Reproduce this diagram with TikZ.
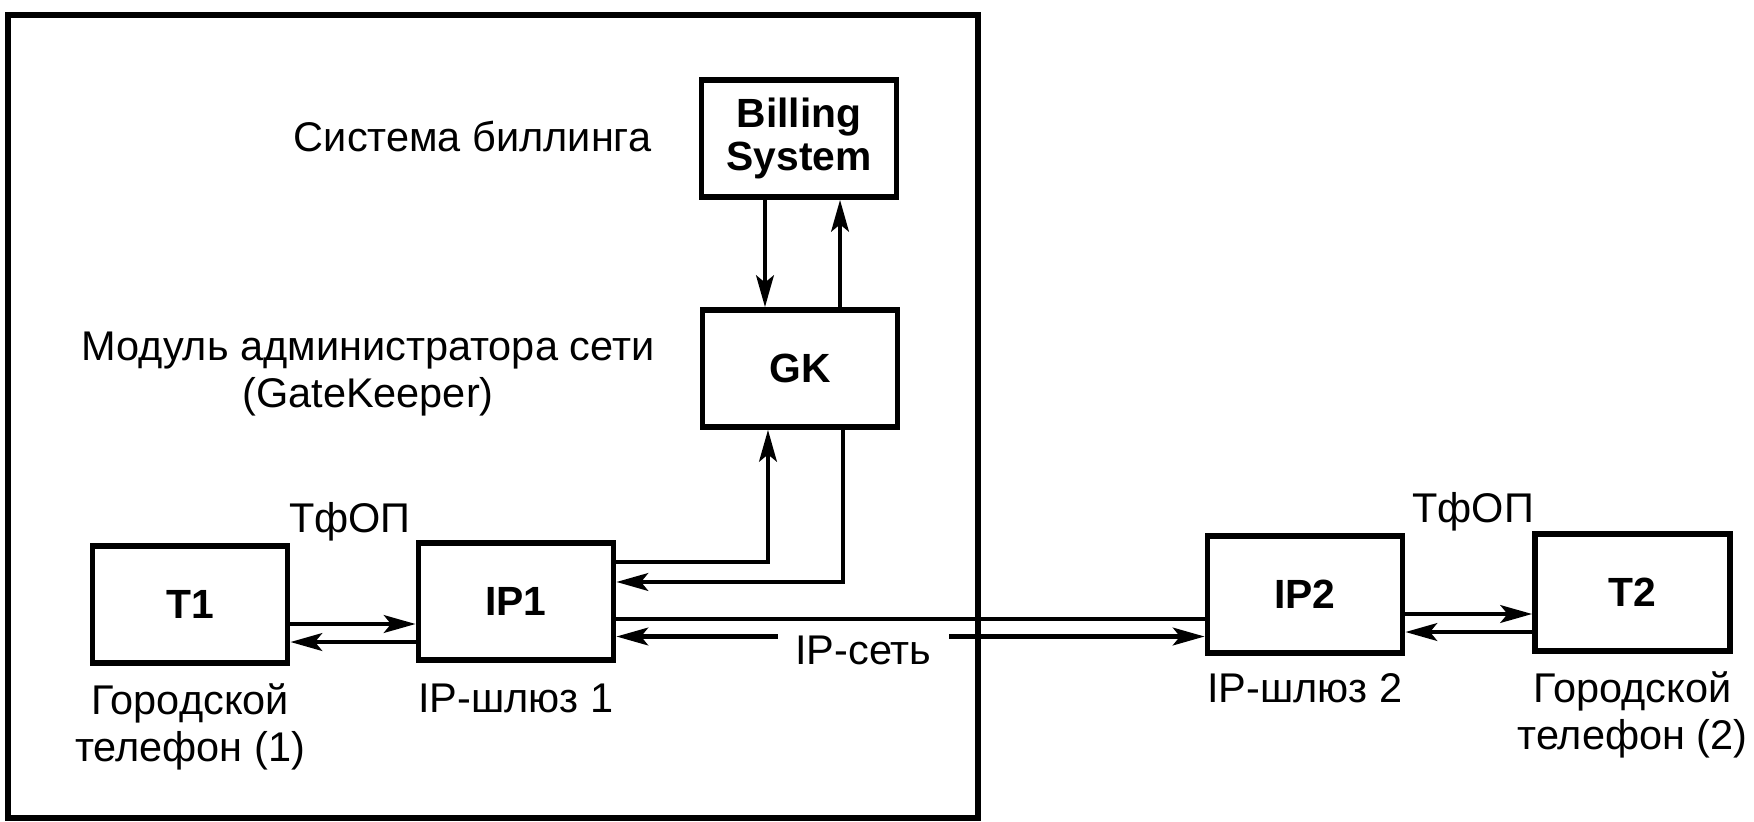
\documentclass[tikz,border=0pt]{standalone}
\usepackage{fontspec}
\setmainfont{Liberation Sans}
\usetikzlibrary{arrows.meta,positioning}
\tikzset{
  blok/.style={draw, line width=1.6pt, minimum width=1.95cm, minimum height=1.17cm,
    font=\fontsize{11.6}{12}\selectfont\bfseries, align=center, inner sep=0pt},
  lbl/.style={font=\fontsize{11.8}{13.3}\selectfont, align=center, inner sep=0pt},
  svyaz/.style={line width=1.3pt, ->},
}
\begin{document}
\begin{tikzpicture}[x=0.01cm, y=-0.01cm, >={Stealth[length=9pt,width=5pt,inset=2pt]}]
\useasboundingbox (0,0) rectangle (1754,822);
% рамка
\draw[line width=1.6pt] (8,15) rectangle (978,818);
% блоки
\node[blok] (Bill) at (799,138.5) {Billing\\System};
\node[blok] (GK) at (800,368.5) {GK};
\foreach \n/\x/\y in {T1/190/604.5, IP1/516/601.5, IP2/1305/594.5, T2/1632.5/592.5}
  \node[blok] (\n) at (\x,\y) {\n};
% подписи
\node[lbl, anchor=base east] (sysb) at (652,152) {Система биллинга};
\node[lbl, anchor=north] (modul) at (368,331) {Модуль администратора сети\\(GateKeeper)};
\node[lbl, anchor=base] (tfop1) at (350,533) {ТфОП};
\node[lbl, anchor=base] (tfop2) at (1473,523) {ТфОП};
\node[lbl, below=1.7mm of T1] (gor1) {Городской\\телефон (1)};
\node[lbl, below=2mm of IP1] (shl1) {IP-шлюз 1};
\node[lbl, below=1.7mm of IP2] (shl2) {IP-шлюз 2};
\node[lbl, below=1.7mm of T2] (gor2) {Городской\\телефон (2)};
% точки выхода линий
\path ([xshift=-3.4mm]Bill.south) coordinate (b1)
      ([xshift=4.1mm]Bill.south) coordinate (b2)
      ([xshift=-3.2mm]GK.south) coordinate (g1)
      ([xshift=4.3mm]GK.south) coordinate (g2)
      ([yshift=3.95mm]IP1.east) coordinate (i1)
      ([yshift=1.95mm]IP1.east) coordinate (i2)
      ([yshift=-1.75mm]IP1.east) coordinate (n1)
      ([yshift=-3.5mm]IP1.east) coordinate (n2)
      ([yshift=-1.95mm]T1.east) coordinate (t1)
      ([yshift=-3.75mm]T1.east) coordinate (t2)
      ([yshift=-1.95mm]IP2.east) coordinate (p1)
      ([yshift=-3.75mm]IP2.east) coordinate (p2);
% связи
\draw[svyaz] (b1) -- (b1 |- GK.north);
\draw[svyaz] (GK.north -| b2) -- (b2);
\draw[svyaz] (i1) -| (g1);
\draw[svyaz] (g2) |- (i2);
\draw[svyaz] (t1) -- (t1 -| IP1.west);
\draw[svyaz] (t2 -| IP1.west) -- (t2);
\draw[line width=1.3pt] (n1) -- (n1 -| IP2.west);
\draw[svyaz, <->] (n2) -- node[lbl, pos=0.42, fill=white, yshift=-1.4mm, inner xsep=1.7mm, inner ysep=2pt] (ipnet) {IP-сеть} (n2 -| IP2.west);
\draw[svyaz] (p1) -- (p1 -| T2.west);
\draw[svyaz] (p2 -| T2.west) -- (p2);
\end{tikzpicture}
\end{document}
